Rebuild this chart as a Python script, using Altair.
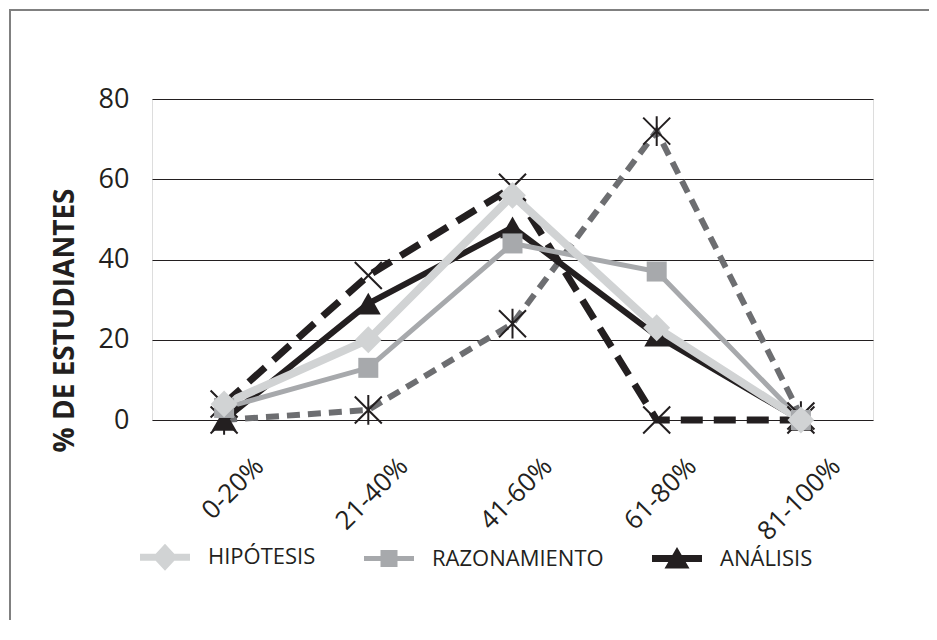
import altair as alt
import pandas as pd

# ---- data ----
categories = ["0-20%", "21-40%", "41-60%", "61-80%", "81-100%"]
hipotesis = [4, 20, 56, 23, 0]
razonamiento = [3, 13, 44, 37, 0]
analisis = [0, 29, 48, 21, 0]
serie_x = [4, 36, 58, 0, 0]            # black dashed line, X markers (not in legend)
serie_asterisco = [0, 2.5, 24, 72, 1]  # grey dashed line, star markers (not in legend)
y_ticks = [0, 20, 40, 60, 80]
legend_names = ["HIPÓTESIS", "RAZONAMIENTO", "ANÁLISIS"]

INK = "#231f20"
FONT = "Open Sans"

series = {
    "HIPÓTESIS": hipotesis,
    "RAZONAMIENTO": razonamiento,
    "ANÁLISIS": analisis,
    "Serie X": serie_x,
    "Serie asterisco": serie_asterisco,
}
rows = []
for name, vals in series.items():
    for c, v in zip(categories, vals):
        rows.append({"series": name, "cat": c, "value": v})
df = pd.DataFrame(rows)

X_PATH = "M-1,-1L1,1M-1,1L1,-1"
STAR_PATH = "M-1,-1L1,1M-1,1L1,-1M0,-1.1L0,1.1"

styles = {
    "Serie asterisco": dict(color="#6d6e71", width=6, dash=[13, 8], shape=STAR_PATH, size=730, filled=False),
    "Serie X": dict(color=INK, width=7, dash=[22, 11], shape=X_PATH, size=730, filled=False),
    "ANÁLISIS": dict(color=INK, width=6, dash=None, shape="triangle-up", size=620, filled=True),
    "RAZONAMIENTO": dict(color="#a7a9ac", width=5, dash=None, shape="square", size=400, filled=True),
    "HIPÓTESIS": dict(color="#d1d3d4", width=8, dash=None, shape="diamond", size=720, filled=True),
}
order = ["Serie asterisco", "Serie X", "ANÁLISIS", "RAZONAMIENTO", "HIPÓTESIS"]

x_enc = alt.X(
    "cat:O", sort=categories, title=None,
    scale=alt.Scale(type="point", padding=0.5, domain=categories),
    axis=alt.Axis(labelAngle=-45, labelAlign="right", labelBaseline="middle",
                  labelPadding=42, labelOffset=35, labelFontSize=26, labelFont=FONT,
                  labelColor=INK, ticks=False, domain=False, grid=False),
)
y_enc = alt.Y(
    "value:Q", title="% DE ESTUDIANTES",
    scale=alt.Scale(domain=[0, 80], nice=False, zero=False),
    axis=alt.Axis(values=y_ticks, grid=True, gridColor=INK, gridWidth=1.2,
                  ticks=False, domain=False, labelPadding=23, labelFontSize=27,
                  labelFont=FONT, labelColor=INK,
                  titleFont=FONT, titleFontSize=28, titleFontWeight="bold",
                  titleColor=INK, titleAngle=270, titleX=-87, titleY=221,
                  titleAlign="center", titleBaseline="middle"),
)

base = alt.Chart(df)
layers = []

# outer frame of the figure: only its top and left edges show in the picture
one = pd.DataFrame({"k": [0]})
frame_top = alt.Chart(one).mark_rect(color="#808080", strokeWidth=0).encode(
    x=alt.value(-143), x2=alt.value(800), y=alt.value(-90), y2=alt.value(-88))
frame_left = alt.Chart(one).mark_rect(color="#808080", strokeWidth=0).encode(
    x=alt.value(-143), x2=alt.value(-141), y=alt.value(-90), y2=alt.value(600))
layers += [frame_top, frame_left]

for name in order:
    s = styles[name]
    kw = dict(color=s["color"], strokeWidth=s["width"], strokeJoin="miter", strokeCap="butt")
    if s["dash"]:
        kw["strokeDash"] = s["dash"]
    layers.append(
        base.transform_filter(alt.datum.series == name)
        .mark_line(**kw)
        .encode(x=x_enc, y=y_enc)
    )
for name in order:
    s = styles[name]
    if s["filled"]:
        mk = base.transform_filter(alt.datum.series == name).mark_point(
            shape=s["shape"], size=s["size"], filled=True, fill=s["color"],
            strokeWidth=0, opacity=1)
    else:
        mk = base.transform_filter(alt.datum.series == name).mark_point(
            shape=s["shape"], size=s["size"], filled=False, stroke=INK,
            strokeWidth=2, opacity=1)
    layers.append(mk.encode(x=x_enc, y=y_enc))

# legend (three solid series only), symbols = line segment + marker
legend_paths = [
    "M-1,-0.14L1,-0.14L1,0.14L-1,0.14Z M0,-0.54L0.5,0L0,0.54L-0.5,0Z",
    "M-1,-0.1L1,-0.1L1,0.1L-1,0.1Z M-0.34,-0.34L0.34,-0.34L0.34,0.34L-0.34,0.34Z",
    "M-1,-0.14L1,-0.14L1,0.14L-1,0.14Z M0,-0.46L0.5,0.4L-0.5,0.4Z",
]
legend_colors = ["#d1d3d4", "#a7a9ac", INK]
leg = alt.Legend(orient="none", legendX=-12, legendY=433, direction="horizontal",
                 title=None, symbolSize=2500, symbolStrokeWidth=0,
                 labelFontSize=22, labelFont=FONT, labelColor=INK, labelLimit=400,
                 labelOffset=18, columnPadding=48, symbolOpacity=1)
legend_layer = (
    base.transform_filter("false")
    .mark_point(filled=True, size=2500, opacity=1, strokeWidth=0)
    .encode(
        x=x_enc, y=y_enc,
        shape=alt.Shape("series:N", scale=alt.Scale(domain=legend_names, range=legend_paths), legend=leg),
        fill=alt.Fill("series:N", scale=alt.Scale(domain=legend_names, range=legend_colors), legend=leg),
    )
)
layers.append(legend_layer)

chart = (
    alt.layer(*layers)
    .properties(
        width=721, height=321,
        autosize=alt.AutoSizeParams(type="none"),
        padding={"left": 144, "top": 91, "right": 56, "bottom": 200},
    )
    .configure_view(stroke=INK, strokeWidth=1.5)
    .configure(background="white")
)

chart.save("out.html", embed_options={"renderer": "svg", "actions": False})
